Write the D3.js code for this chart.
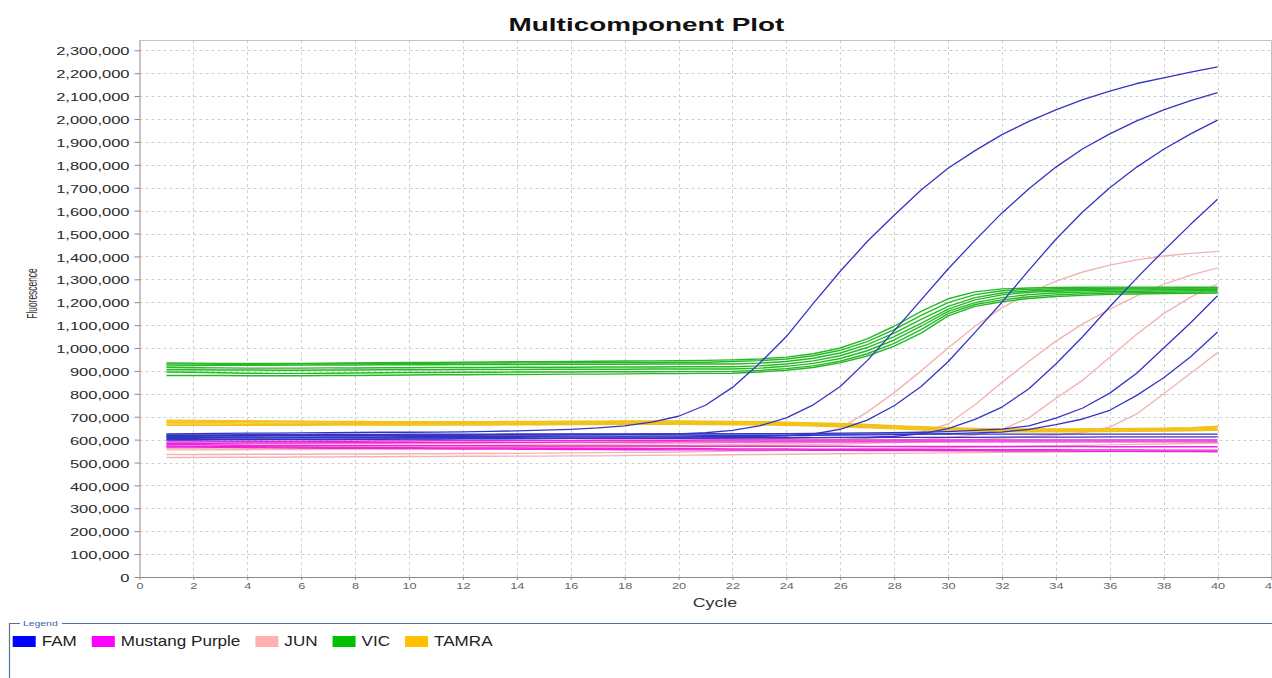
<!DOCTYPE html>
<html>
<head>
<meta charset="utf-8">
<script src="https://cdn.jsdelivr.net/npm/d3@7/dist/d3.min.js"></script>
<style>
	body { margin: 0; background: #fff; }
	svg { display: block; font-family: "Liberation Sans", Arial, sans-serif; }
</style>
</head>
<body>
<div id="chart"></div>
<script>
// values, fluorescence in thousands
var cycles = [1, 2, 3, 4, 5, 6, 7, 8, 9, 10, 11, 12, 13, 14, 15, 16, 17, 18, 19, 20,
	21, 22, 23, 24, 25, 26, 27, 28, 29, 30, 31, 32, 33, 34, 35, 36, 37, 38, 39, 40];

var xTicks = [0, 2, 4, 6, 8, 10, 12, 14, 16, 18, 20, 22, 24, 26, 28, 30, 32, 34, 36, 38, 40, 42];
var yTicks = [0, 100000, 200000, 300000, 400000, 500000, 600000, 700000, 800000, 900000, 1000000,
	1100000, 1200000, 1300000, 1400000, 1500000, 1600000, 1700000, 1800000, 1900000, 2000000,
	2100000, 2200000, 2300000];

var dyes = ["FAM", "Mustang Purple", "JUN", "VIC", "TAMRA"];
var legendColors = ["#0000ff", "#ff00ff", "#ffb0b0", "#00c000", "#ffc000"];
var lineColors = ["#3434c4", "#ee22e0", "#f3b3b3", "#25b825", "#f2c21a"];

var fam = [
	[625, 626, 627, 628, 628, 629, 630, 631, 632, 632, 633, 634, 636, 638, 641, 645, 651, 660, 676, 702,
		750, 828, 932, 1050, 1195, 1335, 1465, 1580, 1690, 1785, 1862, 1932, 1990, 2040, 2085, 2122, 2155, 2180, 2205, 2228],
	[614, 614, 615, 615, 616, 616, 617, 617, 618, 618, 619, 619, 620, 620, 620, 621, 621, 622, 623, 625,
		630, 640, 660, 695, 752, 832, 945, 1075, 1210, 1345, 1470, 1590, 1695, 1790, 1870, 1935, 1992, 2040, 2080, 2115],
	[606, 606, 607, 607, 607, 608, 608, 608, 609, 609, 609, 610, 610, 610, 611, 611, 611, 612, 612, 612,
		613, 613, 614, 616, 625, 645, 685, 748, 832, 940, 1068, 1200, 1340, 1475, 1595, 1700, 1790, 1868, 1935, 1995],
	[600, 600, 601, 601, 601, 602, 602, 602, 603, 603, 603, 604, 604, 604, 605, 605, 605, 606, 606, 606,
		607, 607, 608, 608, 609, 610, 611, 614, 625, 648, 688, 742, 822, 930, 1050, 1180, 1305, 1425, 1540, 1650],
	[618, 618, 618, 619, 619, 619, 620, 620, 620, 621, 621, 621, 622, 622, 622, 623, 623, 623, 624, 624,
		625, 625, 626, 626, 627, 628, 629, 630, 632, 635, 640, 646, 660, 694, 738, 803, 890, 1000, 1110, 1228],
	[610, 610, 610, 611, 611, 611, 612, 612, 612, 613, 613, 613, 614, 614, 614, 615, 615, 615, 616, 616,
		617, 617, 618, 618, 619, 620, 621, 622, 624, 626, 629, 633, 645, 665, 690, 728, 793, 870, 962, 1070],
	[620, 621, 621, 622, 622, 622, 623, 623, 623, 624, 624, 624, 624, 625, 625, 625, 625, 625, 625, 625,
		625, 625, 625, 625, 625, 624, 624, 624, 624, 624, 624, 624, 624, 624, 624, 624, 624, 624, 624, 624],
	[598, 598, 599, 599, 600, 600, 600, 601, 601, 602, 602, 603, 603, 604, 604, 605, 605, 606, 606, 607,
		607, 608, 608, 608, 609, 609, 609, 610, 610, 610, 610, 611, 611, 611, 611, 612, 612, 612, 612, 612]
];

var mustang = [
	[590, 590, 591, 591, 592, 592, 593, 593, 594, 594, 595, 595, 595, 596, 596, 596, 597, 597, 597, 597,
		598, 598, 598, 598, 598, 598, 598, 598, 598, 598, 598, 598, 598, 598, 598, 598, 598, 598, 598, 598],
	[584, 584, 584, 585, 585, 585, 586, 586, 586, 587, 587, 587, 588, 588, 588, 589, 589, 589, 589, 590,
		590, 590, 590, 590, 590, 590, 590, 590, 590, 590, 590, 590, 590, 590, 590, 590, 590, 590, 590, 590],
	[580, 579, 576, 574, 573, 573, 573, 573, 573, 573, 573, 573, 573, 573, 572, 572, 572, 572, 572, 572,
		571, 571, 571, 571, 571, 571, 570, 570, 570, 570, 570, 570, 570, 570, 570, 569, 569, 569, 569, 569],
	[572, 571, 570, 569, 568, 567, 566, 566, 565, 565, 564, 564, 563, 563, 562, 562, 561, 561, 560, 560,
		560, 559, 559, 559, 558, 558, 558, 557, 557, 557, 556, 556, 556, 556, 555, 555, 555, 554, 554, 554],
	[568, 567, 566, 565, 564, 563, 562, 562, 561, 561, 560, 559, 559, 558, 558, 557, 557, 556, 556, 555,
		555, 554, 554, 554, 553, 553, 552, 552, 552, 551, 551, 550, 550, 550, 549, 549, 549, 548, 548, 547]
];

var jun = [
	[578, 578, 579, 579, 580, 580, 581, 581, 582, 582, 583, 583, 584, 585, 586, 587, 588, 590, 592, 594,
		596, 598, 601, 606, 618, 650, 720, 805, 900, 1000, 1095, 1175, 1240, 1292, 1332, 1362, 1385, 1402, 1413, 1422],
	[570, 570, 571, 571, 572, 572, 573, 573, 574, 574, 575, 575, 576, 577, 578, 579, 580, 581, 582, 583,
		585, 587, 589, 592, 596, 600, 606, 615, 632, 668, 752, 850, 942, 1030, 1105, 1170, 1228, 1278, 1318, 1350],
	[562, 562, 563, 563, 564, 564, 565, 565, 566, 566, 567, 567, 568, 569, 570, 571, 572, 573, 574, 575,
		577, 579, 581, 583, 586, 589, 592, 596, 601, 608, 620, 645, 695, 780, 860, 960, 1060, 1150, 1222, 1280],
	[555, 555, 556, 556, 557, 557, 558, 558, 559, 559, 560, 560, 561, 562, 563, 564, 565, 566, 567, 568,
		570, 572, 574, 576, 578, 581, 584, 587, 591, 595, 600, 606, 613, 620, 630, 655, 712, 800, 890, 980],
	[535, 535, 535, 536, 536, 536, 537, 537, 537, 538, 538, 539, 539, 540, 541, 542, 543, 544, 545, 546,
		548, 550, 551, 553, 555, 557, 559, 561, 563, 565, 567, 569, 571, 573, 575, 577, 579, 581, 583, 585],
	[522, 522, 523, 523, 523, 524, 524, 525, 525, 526, 526, 527, 527, 528, 528, 529, 529, 530, 531, 532,
		533, 534, 535, 536, 537, 538, 539, 540, 541, 542, 543, 544, 545, 546, 547, 548, 548, 549, 549, 550]
];

var vic = [
	[935, 934, 933, 932, 932, 933, 934, 935, 936, 937, 937, 938, 939, 940, 940, 941, 942, 943, 944, 945,
		946, 948, 952, 960, 975, 1000, 1040, 1095, 1160, 1215, 1245, 1258, 1262, 1264, 1265, 1266, 1266, 1266, 1265, 1265],
	[930, 930, 929, 929, 930, 931, 931, 932, 932, 933, 933, 934, 934, 935, 935, 936, 936, 937, 937, 938,
		938, 941, 945, 952, 966, 990, 1028, 1080, 1142, 1198, 1233, 1250, 1256, 1259, 1260, 1261, 1262, 1262, 1262, 1262],
	[922, 923, 924, 925, 925, 926, 926, 926, 927, 927, 927, 928, 928, 928, 929, 929, 929, 929, 930, 930,
		930, 930, 934, 941, 955, 978, 1015, 1065, 1125, 1182, 1220, 1240, 1249, 1253, 1255, 1257, 1258, 1258, 1258, 1258],
	[915, 914, 913, 912, 912, 912, 913, 913, 914, 914, 915, 915, 915, 916, 916, 916, 917, 917, 917, 918,
		918, 918, 922, 930, 944, 966, 1002, 1050, 1108, 1170, 1210, 1232, 1243, 1248, 1251, 1253, 1254, 1255, 1255, 1255],
	[905, 905, 904, 904, 903, 903, 904, 904, 905, 905, 905, 906, 906, 906, 907, 907, 907, 907, 908, 908,
		908, 908, 912, 920, 933, 954, 988, 1035, 1095, 1160, 1198, 1220, 1233, 1240, 1244, 1247, 1248, 1249, 1250, 1250],
	[895, 894, 892, 890, 889, 889, 890, 891, 892, 893, 893, 894, 894, 895, 895, 895, 896, 896, 896, 897,
		897, 898, 902, 910, 922, 942, 975, 1020, 1080, 1150, 1190, 1210, 1224, 1232, 1237, 1240, 1242, 1243, 1244, 1245],
	[880, 880, 880, 879, 879, 879, 880, 880, 881, 882, 883, 883, 884, 884, 885, 886, 886, 887, 888, 888,
		889, 890, 895, 903, 915, 935, 965, 1008, 1065, 1140, 1182, 1202, 1216, 1225, 1230, 1234, 1236, 1238, 1239, 1240]
];

var tamra = [
	[685, 684, 683, 682, 681, 680, 679, 679, 678, 678, 678, 678, 678, 679, 679, 680, 680, 681, 681, 681,
		680, 679, 678, 676, 673, 670, 666, 661, 656, 652, 649, 647, 646, 646, 647, 648, 649, 650, 652, 658],
	[681, 681, 680, 679, 678, 677, 677, 676, 676, 676, 676, 676, 676, 677, 677, 678, 678, 679, 679, 679,
		678, 677, 676, 674, 671, 668, 664, 659, 654, 650, 647, 645, 644, 644, 645, 646, 647, 648, 650, 655],
	[675, 675, 674, 673, 672, 672, 671, 671, 671, 671, 671, 671, 672, 672, 673, 673, 674, 674, 675, 675,
		674, 673, 672, 670, 667, 664, 660, 655, 650, 646, 643, 641, 640, 640, 641, 642, 643, 644, 645, 650],
	[668, 668, 668, 667, 667, 667, 667, 667, 667, 667, 668, 668, 668, 669, 669, 670, 670, 671, 671, 671,
		670, 669, 668, 666, 663, 660, 656, 651, 646, 642, 639, 637, 636, 636, 637, 638, 639, 640, 641, 645],
	[662, 662, 662, 662, 662, 662, 663, 663, 663, 663, 664, 664, 664, 665, 665, 666, 666, 667, 667, 667,
		666, 665, 664, 662, 659, 656, 652, 647, 643, 640, 637, 635, 634, 634, 634, 635, 636, 637, 638, 641]
];

// the screenshot is stretched sideways, so text is widened to match
function stretch(sel, sx) {
	sel.attr("transform", function () {
		var x = +d3.select(this).attr("x") || 0;
		return "translate(" + x + ",0) scale(" + sx + ",1) translate(" + (-x) + ",0)";
	});
}

var width = 1272, height = 678;
var margin = { top: 40, right: 0.5, bottom: 101, left: 139.5 };

var svg = d3.select("#chart").append("svg")
	.attr("width", width)
	.attr("height", height);

var x = d3.scaleLinear()
	.domain([0, 42])
	.range([margin.left, width - margin.right]);
var y = d3.scaleLinear()
	.domain([0, 2345000])
	.range([height - margin.bottom, margin.top]);

// grid
var grid = svg.append("g").attr("class", "grid");
grid.selectAll(".vgrid")
	.data(xTicks.filter(function (d) { return d > 0 && d < 42; }))
	.enter().append("line")
	.attr("x1", function (d) { return Math.round(x(d)) + 0.5; })
	.attr("x2", function (d) { return Math.round(x(d)) + 0.5; })
	.attr("y1", margin.top)
	.attr("y2", height - margin.bottom)
	.attr("stroke", "#cfcfcf")
	.attr("stroke-dasharray", "3,3");
grid.selectAll(".hgrid")
	.data(yTicks.filter(function (d) { return d > 0; }))
	.enter().append("line")
	.attr("x1", margin.left)
	.attr("x2", width - margin.right)
	.attr("y1", function (d) { return Math.round(y(d)) + 0.5; })
	.attr("y2", function (d) { return Math.round(y(d)) + 0.5; })
	.attr("stroke", "#cfcfcf")
	.attr("stroke-dasharray", "3,3");

// top and right border
svg.append("path")
	.attr("d", "M" + margin.left + "," + (margin.top + 0.5) + "H" + (width - margin.right) + "V" + (height - margin.bottom))
	.attr("fill", "none")
	.attr("stroke", "#c4c4c4");

// lines
var groups = [jun, mustang, tamra, vic, fam];
var groupColor = [lineColors[2], lineColors[1], lineColors[4], lineColors[3], lineColors[0]];

var line = d3.line()
	.x(function (d, i) { return x(cycles[i]); })
	.y(function (d) { return y(d * 1000); });

var plot = svg.append("g").attr("class", "lines");
groups.forEach(function (g, k) {
	plot.selectAll(null)
		.data(g)
		.enter().append("path")
		.attr("d", line)
		.attr("fill", "none")
		.attr("stroke", groupColor[k])
		.attr("stroke-width", k == 4 ? 1.3 : 1.4)
		.attr("stroke-linejoin", "round");
});

// axes
var xAxis = d3.axisBottom(x)
	.tickValues(xTicks)
	.tickSize(3)
	.tickSizeOuter(0);
var yAxis = d3.axisLeft(y)
	.tickValues(yTicks)
	.tickFormat(d3.format(","))
	.tickSize(5)
	.tickSizeOuter(0);

var gx = svg.append("g")
	.attr("transform", "translate(0," + (height - margin.bottom) + ")")
	.call(xAxis);
gx.selectAll("path, line").attr("stroke", "#8a8a8a");
gx.selectAll("text")
	.attr("y", 12)
	.attr("dy", 0)
	.attr("fill", "#666")
	.style("font-size", "8.5px")
	.call(stretch, 1.5);

var gy = svg.append("g")
	.attr("transform", "translate(" + margin.left + ",0)")
	.call(yAxis);
gy.selectAll("path, line").attr("stroke", "#8a8a8a");
gy.selectAll("text")
	.attr("x", -10)
	.attr("dy", "0.42em")
	.attr("fill", "#2a2a2a")
	.style("font-size", "11px")
	.call(stretch, 1.5);

// titles
svg.append("text")
	.attr("x", 646.5)
	.attr("y", 31)
	.attr("text-anchor", "middle")
	.style("font-size", "18px")
	.style("font-weight", "bold")
	.attr("fill", "#111")
	.text("Multicomponent Plot")
	.call(stretch, 1.55);

svg.append("text")
	.attr("x", 715)
	.attr("y", 607)
	.attr("text-anchor", "middle")
	.style("font-size", "12.5px")
	.attr("fill", "#333")
	.text("Cycle")
	.call(stretch, 1.42);

svg.append("text")
	.attr("transform", "translate(37,293.5) scale(1.7,1) rotate(-90)")
	.attr("text-anchor", "middle")
	.style("font-size", "8.4px")
	.attr("fill", "#333")
	.text("Fluorescence");

// legend
var legend = svg.append("g").attr("class", "legend");
legend.append("path")
	.attr("d", "M9.5," + height + "V623.5H" + width)
	.attr("fill", "none")
	.attr("stroke", "#56738f")
	.attr("stroke-width", 1.2);
legend.append("rect")
	.attr("x", 20).attr("y", 618)
	.attr("width", 42).attr("height", 10)
	.attr("fill", "#fff");
legend.append("text")
	.attr("x", 23)
	.attr("y", 626.5)
	.style("font-size", "8px")
	.attr("fill", "#3a66a8")
	.text("Legend")
	.call(stretch, 1.3);

var cursor = 12.7;
dyes.forEach(function (name, i) {
	legend.append("rect")
		.attr("x", cursor)
		.attr("y", 636)
		.attr("width", 23)
		.attr("height", 11)
		.attr("fill", legendColors[i]);
	var t = legend.append("text")
		.attr("x", cursor + 29)
		.attr("y", 646.5)
		.style("font-size", "14px")
		.attr("fill", "#222")
		.text(name)
		.call(stretch, 1.22);
	cursor += 29 + t.node().getComputedTextLength() * 1.22 + 15;
});
</script>
</body>
</html>
